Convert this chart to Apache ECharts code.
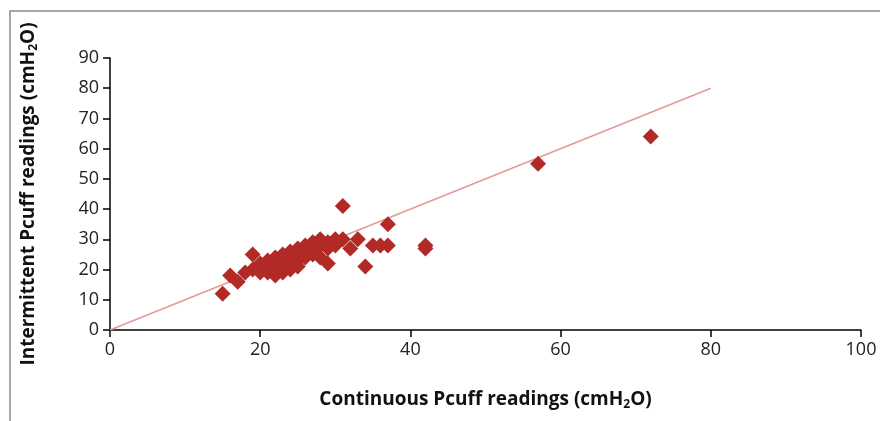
<!DOCTYPE html>
<html lang="en">
<head>
<meta charset="UTF-8">
<title>Pcuff readings</title>
<style>
    * { margin: 0; padding: 0; }
    #chart { width: 880px; height: 421px; background: #fff; }
</style>
<script src="https://cdn.jsdelivr.net/npm/echarts@6/dist/echarts.min.js"></script>
</head>
<body>
<div id="chart"></div>
<script>
// continuous vs intermittent Pcuff (cmH2O)
var contX = [15, 16, 17, 18, 19, 19, 20, 20, 21, 21, 21, 22, 22, 22, 22,
    23, 23, 23, 23, 24, 24, 24, 24, 25, 25, 25, 25, 26, 26, 26, 27, 27, 27,
    28, 28, 28, 29, 29, 29, 30, 30, 31, 31, 32, 33, 34, 35, 36, 37, 37, 42, 42, 57, 72];
var interY = [12, 18, 16, 19, 25, 20, 19, 22, 19, 21, 23, 18, 20, 22, 24,
    19, 21, 23, 25, 20, 22, 24, 26, 21, 23, 25, 27, 24, 26, 28, 25, 27, 29,
    24, 28, 30, 22, 27, 29, 28, 30, 41, 30, 27, 30, 21, 28, 28, 28, 35, 28, 27, 55, 64];
// line of identity
var lineX = [0, 80];
var lineY = [0, 80];

var chart = echarts.init(document.getElementById('chart'));
var pts = contX.map(function (v, i) { return [v, interY[i]]; });
var idLine = lineX.map(function (v, i) { return [v, lineY[i]]; });

var font = 'Open Sans';
var titleRich = {
    a: { fontSize: 19, fontWeight: 'bold', fontFamily: font, color: '#111' },
    s: { fontSize: 12, fontWeight: 'bold', fontFamily: font, color: '#111', padding: [11, 0, 0, 0] }
};
option = {
    animation: false,
    grid: { left: 110, right: 19, top: 58, bottom: 91 },
    xAxis: {
        type: 'value', min: 0, max: 100, interval: 20,
        splitLine: { show: false },
        axisLine: { lineStyle: { color: '#000', width: 1.5 } },
        axisTick: { length: 7, lineStyle: { color: '#000', width: 1.5 } },
        axisLabel: { color: '#222', fontSize: 18, fontFamily: font, margin: 11 },
        name: '{a|Continuous Pcuff readings (cmH}{s|2}{a|O)}',
        nameLocation: 'middle', nameGap: 58,
        nameTextStyle: { rich: titleRich }
    },
    yAxis: {
        type: 'value', min: 0, max: 90, interval: 10,
        splitLine: { show: false },
        axisLine: { show: true, lineStyle: { color: '#000', width: 1.5 } },
        axisTick: { show: true, length: 7, lineStyle: { color: '#000', width: 1.5 } },
        axisLabel: { color: '#222', fontSize: 18, fontFamily: font, margin: 11 },
        name: '{a|Intermittent Pcuff readings (cmH}{s|2}{a|O)}',
        nameLocation: 'middle', nameGap: 70,
        nameTextStyle: { rich: titleRich }
    },
    graphic: [{
        type: 'polyline',
        shape: { points: [[10, 421], [10, 11], [880, 11]] },
        style: { stroke: '#8a8a8a', lineWidth: 1.5, fill: null }
    }],
    series: [{
        type: 'line',
        data: idLine,
        symbol: 'none',
        lineStyle: { color: '#e29a98', width: 1.5 },
        z: 1
    }, {
        type: 'scatter',
        data: pts,
        symbol: 'diamond',
        symbolSize: 16,
        itemStyle: { color: '#b22a26', opacity: 1 },
        z: 2
    }]
};
chart.setOption(option);
</script>
</body>
</html>
